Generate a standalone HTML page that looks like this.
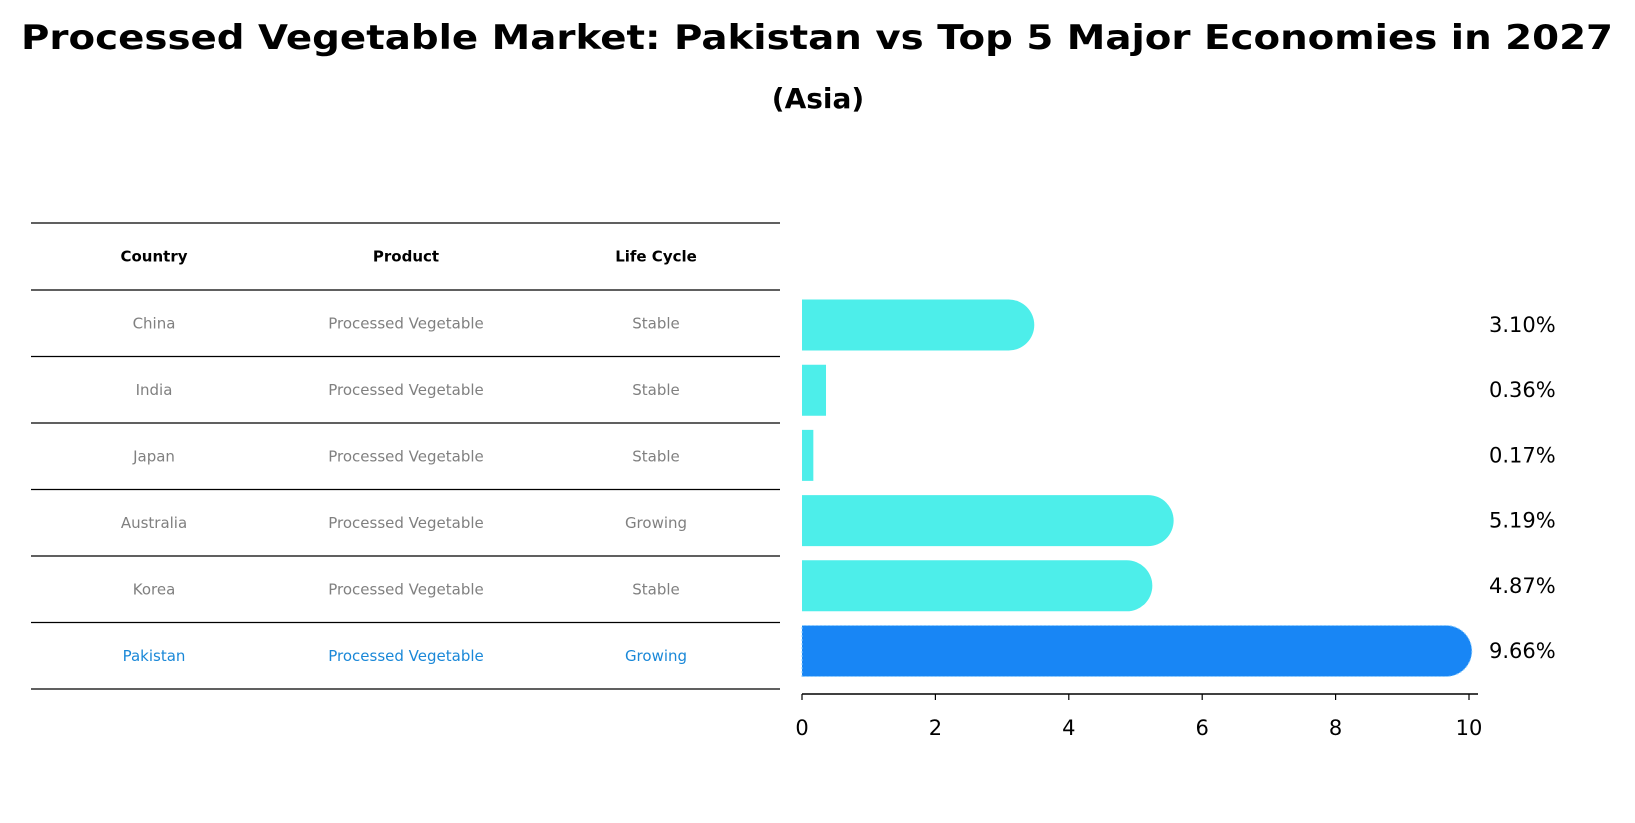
<!DOCTYPE html>
<html><head><meta charset="utf-8"><style>
html,body{margin:0;padding:0;background:#fff;}
svg{display:block;font-family:"DejaVu Sans","Liberation Sans",sans-serif;}
</style></head><body>
<svg id="c" width="1635" height="823" viewBox="0 0 1635 823">
<text x="817" y="49" text-anchor="middle" font-weight="bold" font-size="34" textLength="1592" lengthAdjust="spacingAndGlyphs">Processed Vegetable Market: Pakistan vs Top 5 Major Economies in 2027</text>
<text x="818" y="108" text-anchor="middle" font-weight="bold" font-size="28">(Asia)</text>
<g id="table"></g>
<g id="bars"></g>
</svg>
<script>
const countries=["China","India","Japan","Australia","Korea","Pakistan"];
const products=["Processed Vegetable","Processed Vegetable","Processed Vegetable","Processed Vegetable","Processed Vegetable","Processed Vegetable"];
const lifecycles=["Stable","Stable","Stable","Growing","Stable","Growing"];
const values=[3.10,0.36,0.17,5.19,4.87,9.66];
const ticks=[0,2,4,6,8,10];
const NS="http://www.w3.org/2000/svg";
function mk(tag,attrs,parent,text){const e=document.createElementNS(NS,tag);for(const k in attrs)e.setAttribute(k,attrs[k]);if(text!==undefined)e.textContent=text;parent.appendChild(e);return e;}
const tbl=document.getElementById('table'), bars=document.getElementById('bars');
const rowTop=223,rowH=66.5,hdrH=67;
const colX=[154,406,656];
function rowY(i){return rowTop+hdrH+rowH*i+rowH/2;}
// lines
for(let i=0;i<=countries.length+1;i++){
  const y=i==0?rowTop:rowTop+hdrH+rowH*(i-1);
  const l=mk('line',{x1:31,x2:780,y1:y,y2:y,stroke:'#000','stroke-width':1.2},tbl);
  
  
}
["Country","Product","Life Cycle"].forEach((h,j)=>{
  const t=mk('text',{x:colX[j],y:rowTop+hdrH/2+5,'text-anchor':'middle','font-size':15,'font-weight':'bold'},tbl,h);
  
  
});
countries.forEach((c,i)=>{
  const col=c==="Pakistan"?'#1a88d8':'#808080';
  [c,products[i],lifecycles[i]].forEach((v,j)=>{
    const t=mk('text',{x:colX[j],y:rowY(i)+5,'text-anchor':'middle','font-size':15,fill:col},tbl,v);
    
    
  });
});
// chart
const x0=802,x1=1469;
function xs(v){return x0+(v-0)/(10-0)*(x1-x0);}
const bh=51;
values.forEach((v,i)=>{
  const cy=325+65.2*i;
  const col=countries[i]==="Pakistan"?'#1886f5':'#4deeea';
  const w=xs(v)-x0;
  let d;
  const r=bh/2;
  if(v>1){d=`M${x0},${cy-r} H${xs(v)} A${r},${r} 0 0 1 ${xs(v)},${cy+r} H${x0} Z`;}
  else{d=`M${x0},${cy-r} H${xs(v)} V${cy+r} H${x0} Z`;}
  const p=mk('path',{d:d,fill:col},bars);
  if(countries[i]==="Pakistan"){p.setAttribute('stroke','#8fd0ff');p.setAttribute('stroke-dasharray','2 2');p.setAttribute('stroke-width','1');}
  
  
  const t=mk('text',{x:1489,y:cy+7,'font-size':21},bars,values[i].toFixed(2)+'%');
  
  
});
const ax=mk('line',{x1:x0,x2:1478,y1:694,y2:694,stroke:'#000','stroke-width':1.5},bars);


ticks.forEach(v=>{
  const tk=mk('line',{x1:xs(v),x2:xs(v),y1:694,y2:700,stroke:'#000','stroke-width':1.2},bars);
  
  
  const t=mk('text',{x:xs(v),y:735,'text-anchor':'middle','font-size':21},bars,String(v));
  
  
});
</script>
</body></html>
